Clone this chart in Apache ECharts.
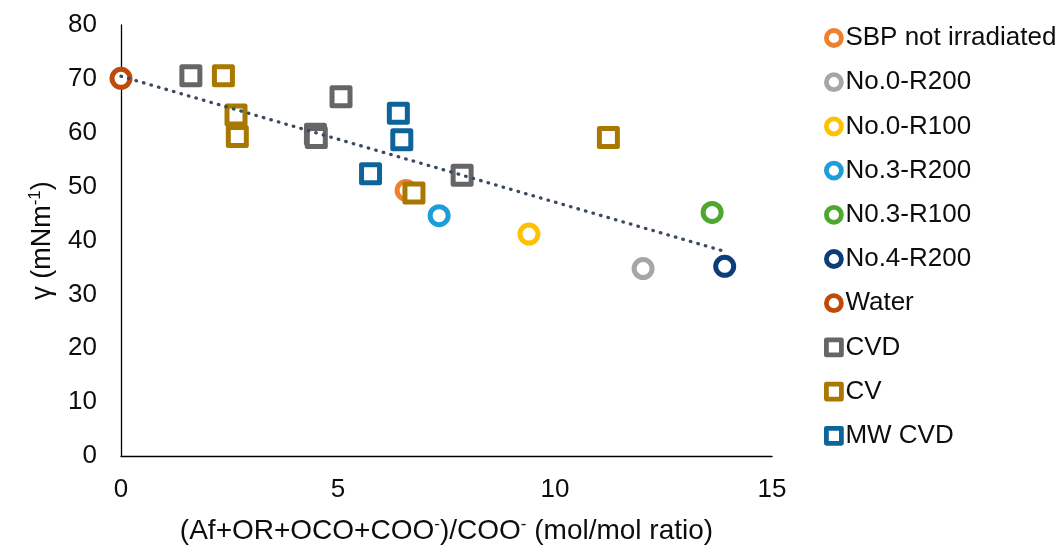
<!DOCTYPE html>
<html>
<head>
<meta charset="utf-8">
<title>Surface tension vs. functional group ratio</title>
<script src="https://cdn.jsdelivr.net/npm/echarts@6/dist/echarts.min.js"></script>
<style>
  html, body { margin: 0; padding: 0; background: #fff; }
  #chart { width: 1058px; height: 551px; }
</style>
</head>
<body>
<div id="chart"></div>
<script>
// Point series: [ratio, surface tension]
const sbpNotIrradiated = [[6.57, 49.3]];
const no0R200 = [[12.03, 34.8]];
const no0R100 = [[9.40, 41.2]];
const no3R200 = [[7.33, 44.6]];
const n03R100 = [[13.62, 45.2]];
const no4R200 = [[13.91, 35.2]];
const water = [[0, 70.1]];
const cvd = [[1.61, 70.6], [5.07, 66.7], [4.48, 59.7], [4.50, 59.1], [7.86, 52.1]];
const cv = [[2.36, 70.6], [2.65, 63.3], [2.68, 59.3], [6.75, 48.8], [11.23, 59.1]];
const mwCvd = [[6.39, 63.6], [6.47, 58.7], [5.75, 52.4]];

const seriesNames = ['SBP not irradiated', 'No.0-R200', 'No.0-R100', 'No.3-R200',
  'N0.3-R100', 'No.4-R200', 'Water', 'CVD', 'CV', 'MW CVD'];
const seriesData = [sbpNotIrradiated, no0R200, no0R100, no3R200, n03R100, no4R200,
  water, cvd, cv, mwCvd];
const seriesColors = ['#F07F2E', '#A6A6A6', '#FFC000', '#1C9FD8', '#4EA72E', '#0B3E78',
  '#BF4A0A', '#666666', '#A87800', '#0C6499'];
const seriesSymbols = ['circle', 'circle', 'circle', 'circle', 'circle', 'circle',
  'circle', 'rect', 'rect', 'rect'];

const xTicks = { min: 0, max: 15, interval: 5 };
const yTicks = { min: 0, max: 80, interval: 10 };

// Linear least-squares fit over every measured point, drawn across the data's x span
const allPoints = seriesData.flat();
function linearFit(points) {
  const n = points.length;
  let sx = 0, sy = 0, sxx = 0, sxy = 0;
  points.forEach(([x, y]) => { sx += x; sy += y; sxx += x * x; sxy += x * y; });
  const slope = (n * sxy - sx * sy) / (n * sxx - sx * sx);
  const intercept = (sy - slope * sx) / n;
  return { slope, intercept };
}
const fit = linearFit(allPoints);
const xs = allPoints.map(p => p[0]);
const xLo = Math.min(...xs), xHi = Math.max(...xs);
const trendData = [[xLo, fit.intercept + fit.slope * xLo], [xHi, fit.intercept + fit.slope * xHi]];

const FONT = '"Liberation Sans", Arial, sans-serif';
const TEXT = '#0d0d0d';

const scatterSeries = seriesNames.map((name, i) => ({
  name,
  type: 'scatter',
  data: seriesData[i],
  symbol: seriesSymbols[i],
  symbolSize: 18,
  z: 2,
  itemStyle: {
    color: '#ffffff',
    borderColor: seriesColors[i],
    borderWidth: 5,
    borderJoin: 'round',
    opacity: 1
  },
  emphasis: { disabled: true }
}));

const chart = echarts.init(document.getElementById('chart'), null, { renderer: 'canvas' });
chart.setOption({
  animation: false,
  backgroundColor: '#ffffff',
  textStyle: { fontFamily: FONT },
  grid: { left: 121, right: 286, top: 25, bottom: 94, containLabel: false },
  xAxis: {
    type: 'value',
    min: xTicks.min, max: xTicks.max, interval: xTicks.interval,
    name: '(Af+OR+OCO+COO{s|-})/COO{s|-} (mol/mol ratio)',
    nameLocation: 'middle',
    nameGap: 60,
    nameTextStyle: {
      fontFamily: FONT, fontSize: 28, color: TEXT, lineHeight: 30,
      rich: { s: { fontFamily: FONT, fontSize: 17, color: TEXT, lineHeight: 16, verticalAlign: 'top' } }
    },
    axisLine: { show: true, onZero: false, lineStyle: { color: '#000000', width: 1.3 } },
    axisTick: { show: false },
    splitLine: { show: false },
    axisLabel: { fontFamily: FONT, fontSize: 26, color: TEXT, margin: 21 }
  },
  yAxis: {
    type: 'value',
    min: yTicks.min, max: yTicks.max, interval: yTicks.interval,
    name: 'γ (mNm{s|-1})',
    nameLocation: 'middle',
    nameRotate: 90,
    nameGap: 63,
    nameTextStyle: {
      fontFamily: FONT, fontSize: 27, color: TEXT, lineHeight: 30,
      rich: { s: { fontFamily: FONT, fontSize: 17, color: TEXT, lineHeight: 16, verticalAlign: 'top' } }
    },
    axisLine: { show: true, onZero: false, lineStyle: { color: '#000000', width: 1.3 } },
    axisTick: { show: false },
    splitLine: { show: false },
    axisLabel: { fontFamily: FONT, fontSize: 26, color: TEXT, margin: 24 }
  },
  legend: {
    data: seriesNames,
    orient: 'vertical',
    left: 819,
    top: 18,
    itemWidth: 15,
    itemHeight: 15,
    itemGap: 14.2,
    selectedMode: false,
    itemStyle: { borderWidth: 4.8 },
    textStyle: { fontFamily: FONT, fontSize: 26, color: TEXT, lineHeight: 30, padding: [0, 0, 0, -1] }
  },
  series: [
    ...scatterSeries,
    {
      name: 'Linear fit',
      type: 'line',
      data: trendData,
      showSymbol: false,
      symbol: 'none',
      silent: true,
      z: 5,
      lineStyle: { color: '#3A4A60', width: 3.3, type: [0.5, 7.3], cap: 'round' },
      emphasis: { disabled: true }
    }
  ]
});
</script>
</body>
</html>
